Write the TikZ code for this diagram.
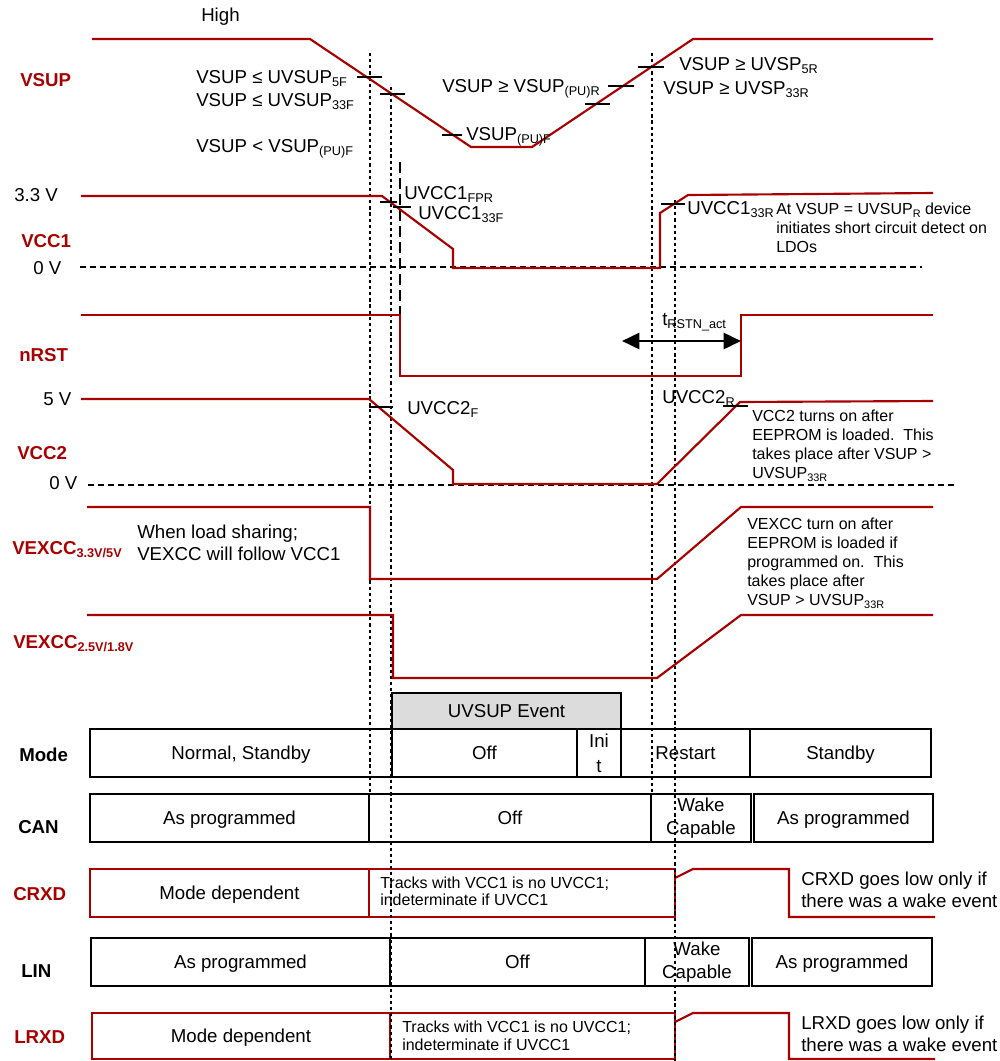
\documentclass[tikz,border=0pt]{standalone}
\usepackage{fontspec}
\usepackage{graphicx}
\setmainfont{Liberation Sans}
\usetikzlibrary{arrows.meta,fit}
\definecolor{wred}{RGB}{168,0,0}
\definecolor{evgray}{RGB}{220,220,220}
\newcommand{\lowsub}[1]{\raisebox{-0.2em}{\scalebox{0.68}{#1}}}
\begin{document}
\begin{tikzpicture}[x=0.75pt,y=-0.75pt,
  wave/.style={draw=wred,line width=1.6pt,line join=miter},
  vdot/.style={draw=black,line width=1.5pt,dash pattern=on 2.4pt off 2.2pt},
  zero/.style={draw=black,line width=1.4pt,dash pattern=on 4.5pt off 3pt},
  ldash/.style={draw=black,line width=1.6pt,dash pattern=on 8pt off 4pt},
  tickm/.style={draw=black,line width=1.5pt},
  txt/.style={font=\fontsize{14}{17}\selectfont,inner sep=0pt,anchor=base west},
  stxt/.style={font=\fontsize{12}{14}\selectfont,inner sep=0pt,anchor=base west},
  sig/.style={font=\fontsize{14}{17}\selectfont\bfseries,text=wred,inner sep=0pt,anchor=base west},
  rowl/.style={font=\fontsize{14}{17}\selectfont\bfseries,inner sep=0pt,anchor=base west},
  cell/.style={draw=black,line width=1.5pt,inner sep=0pt},
  rcell/.style={draw=wred,line width=1.5pt,inner sep=0pt},
  ctext/.style={font=\fontsize{14}{17}\selectfont,inner sep=0pt,anchor=center,align=center},
  ctextone/.style={font=\fontsize{14}{17}\selectfont,inner sep=0pt,anchor=center,text height=10pt,text depth=0pt},
]
\useasboundingbox (0,0) rectangle (1000,1061);

% ---------- table ----------
\node[cell,fill=evgray,fit={(392,693)(621,729)}] (ev) {};
\node[ctextone] (evt) at (ev.center) {UVSUP Event};
\node[cell,fit={(90,729)(392,777)}] (m1) {};
\node[ctextone] (m1t) at (m1.center) {Normal, Standby};
\node[cell,fit={(392,729)(577,777)}] (m2) {};
\node[ctextone] (m2t) at (m2.center) {Off};
\node[cell,fit={(577,729)(621,777)}] (m3) {};
\node[ctext,font=\fontsize{14}{18.5}\selectfont] (m3t) at (m3.center) {Ini\\t};
\node[cell,fit={(621,729)(750,777)}] (m4) {};
\node[ctextone] (m4t) at (m4.center) {Restart};
\node[cell,fit={(750,729)(931,777)}] (m5) {};
\node[ctextone] (m5t) at (m5.center) {Standby};

\node[cell,fit={(90,794)(369,842)}] (c1) {};
\node[ctextone] (c1t) at (c1.center) {As programmed};
\node[cell,fit={(369,794)(651,842)}] (c2) {};
\node[ctextone] (c2t) at (c2.center) {Off};
\node[cell,fit={(651,794)(751,842)}] (c3) {};
\node[ctext] (c3t) at (c3.center) {Wake\\Capable};
\node[cell,fit={(754,794)(933,842)}] (c4) {};
\node[ctextone] (c4t) at (c4.center) {As programmed};

\node[rcell,fit={(90,869)(369,917)}] (r1) {};
\node[ctextone] (r1t) at (r1.center) {Mode dependent};
\node[rcell,fit={(369,869)(675,917)}] (r2) {};
\draw[wave] (675,878) -- (693,869) -- (789,869) -- (789,917) -- (935,917);

\node[cell,fit={(91,938)(390,986)}] (l1) {};
\node[ctextone] (l1t) at (l1.center) {As programmed};
\node[cell,fit={(390,938)(645,986)}] (l2) {};
\node[ctextone] (l2t) at (l2.center) {Off};
\node[cell,fit={(645,938)(749,986)}] (l3) {};
\node[ctext] (l3t) at (l3.center) {Wake\\Capable};
\node[cell,fit={(752,938)(932,986)}] (l4) {};
\node[ctextone] (l4t) at (l4.center) {As programmed};

\node[rcell,fit={(92,1013)(390,1059)}] (x1) {};
\node[ctextone] (x1t) at (x1.center) {Mode dependent};
\node[rcell,fit={(390,1013)(675,1059)}] (x2) {};
\draw[wave] (675,1022) -- (693,1013) -- (789,1013) -- (789,1059) -- (935,1059);

% ---------- dotted time markers ----------
\draw[vdot] (370,53) -- (370,794);
\draw[vdot] (391,87) -- (391,1061);
\draw[vdot] (652,53) -- (652,794);
\draw[vdot] (675,200) -- (675,1061);
\draw[ldash] (400,162) -- (400,336);

% ---------- zero lines ----------
\draw[zero] (80,267) -- (922,267);
\draw[zero] (88,485) -- (958,485);

% ---------- waveforms ----------
\draw[wave] (92,39) -- (310,39) -- (471,147) -- (532,147) -- (693,39) -- (933,39);
\draw[wave] (81,196) -- (382,196) -- (453,249) -- (453,268) -- (660,268) -- (660,213) -- (688,195) -- (933,193);
\draw[wave] (81,315) -- (400,315) -- (400,376) -- (741,376) -- (741,315) -- (933,315);
\draw[wave] (81,399) -- (369,399) -- (453,470) -- (453,484) -- (657,484) -- (740,402) -- (933,401);
\draw[wave] (87,507) -- (370,507) -- (370,579) -- (657,579) -- (741,507) -- (933,507);
\draw[wave] (87,615) -- (393,615) -- (393,678) -- (657,678) -- (741,615) -- (933,615);

% ---------- threshold ticks ----------
\draw[tickm] (357,77) -- (382,77);
\draw[tickm] (380,94) -- (405,94);
\draw[tickm] (442,135) -- (462,135);
\draw[tickm] (585,104) -- (610,104);
\draw[tickm] (608,86) -- (634,86);
\draw[tickm] (638,67) -- (664,67);
\draw[tickm] (380,202) -- (397,202);
\draw[tickm] (393,207) -- (411,207);
\draw[tickm] (661,204) -- (685,204);
\draw[tickm] (369,407) -- (393,407);
\draw[tickm] (723,406) -- (748,406);

% ---------- reset time arrow ----------
\coordinate (ta) at (622,341);
\coordinate (tb) at (741,341);
\draw[line width=2pt,{Triangle[length=13pt,width=12pt]}-{Triangle[length=13pt,width=12pt]}] (ta) -- (tb);
\node[txt] (trst) at (662,325) {t\lowsub{RSTN\_act}};

% ---------- signal labels ----------
\node[sig] (lvsup) at (20,86) {VSUP};
\node[sig] (lvcc1) at (21,247) {VCC1};
\node[sig] (lnrst) at (19,361) {nRST};
\node[sig] (lvcc2) at (17,459) {VCC2};
\node[sig] (lvx1) at (12,554) {VEXCC\lowsub{3.3V/5V}};
\node[sig] (lvx2) at (13,648) {VEXCC\lowsub{2.5V/1.8V}};
\node[rowl] (lmode) at (19,761) {Mode};
\node[rowl] (lcan) at (18,833) {CAN};
\node[sig] (lcrxd) at (13,900) {CRXD};
\node[rowl] (llin) at (21,977) {LIN};
\node[sig] (llrxd) at (14,1043) {LRXD};

% ---------- VSUP texts ----------
\node[txt] (high) at (201,21) {High};
\node[txt] (t5f) at (196,83) {VSUP ≤ UVSUP\lowsub{5F}};
\node[txt] (t33f) at (196,106) {VSUP ≤ UVSUP\lowsub{33F}};
\node[txt] (tpuf) at (196,152) {VSUP < VSUP\lowsub{(PU)F}};
\node[txt] (tpur) at (442,92) {VSUP ≥ VSUP\lowsub{(PU)R}};
\node[txt] (tpuf2) at (466,140) {VSUP\lowsub{(PU)F}};
\node[txt] (t5r) at (679,70) {VSUP ≥ UVSP\lowsub{5R}};
\node[txt] (t33r) at (663,94) {VSUP ≥ UVSP\lowsub{33R}};

% ---------- VCC1 texts ----------
\node[txt] (v33) at (14,201) {3.3 V};
\node[txt] (v0a) at (33,274) {0 V};
\node[txt] (ufpr) at (404,199) {UVCC1\lowsub{FPR}};
\node[txt] (u33f) at (418,219) {UVCC1\lowsub{33F}};
\node[txt] (u33r) at (687,214) {UVCC1\lowsub{33R}};
\node[stxt] (n1a) at (776,214) {At VSUP = UVSUP\lowsub{R} device};
\node[stxt] (n1b) at (776,233) {initiates short circuit detect on};
\node[stxt] (n1c) at (776,252) {LDOs};

% ---------- VCC2 texts ----------
\node[txt] (v5) at (43,405) {5 V};
\node[txt] (v0b) at (49,489) {0 V};
\node[txt] (u2f) at (407,414) {UVCC2\lowsub{F}};
\node[txt] (u2r) at (662,403) {UVCC2\lowsub{R}};
\node[stxt] (n2a) at (752,421) {VCC2 turns on after};
\node[stxt] (n2b) at (752,440) {EEPROM is loaded.\ \ This};
\node[stxt] (n2c) at (752,459) {takes place after VSUP >};
\node[stxt] (n2d) at (752,478) {UVSUP\lowsub{33R}};

% ---------- VEXCC texts ----------
\node[txt] (ls1) at (137,538) {When load sharing;};
\node[txt] (ls2) at (137,560) {VEXCC will follow VCC1};
\node[stxt] (n3a) at (747,529) {VEXCC turn on after};
\node[stxt] (n3b) at (747,548) {EEPROM is loaded if};
\node[stxt] (n3c) at (747,567) {programmed on.\ \ This};
\node[stxt] (n3d) at (747,586) {takes place after};
\node[stxt] (n3e) at (747,605) {VSUP > UVSUP\lowsub{33R}};

% ---------- RXD texts ----------
\node[stxt] (tr1) at (380,888) {Tracks with VCC1 is no UVCC1;};
\node[stxt] (tr2) at (380,905) {indeterminate if UVCC1};
\node[txt] (cn1) at (801,885) {CRXD goes low only if};
\node[txt] (cn2) at (801,907) {there was a wake event};
\node[stxt] (tr3) at (402,1032) {Tracks with VCC1 is no UVCC1;};
\node[stxt] (tr4) at (402,1050) {indeterminate if UVCC1};
\node[txt] (ln1) at (801,1029) {LRXD goes low only if};
\node[txt] (ln2) at (801,1051) {there was a wake event};
\end{tikzpicture}
\end{document}
